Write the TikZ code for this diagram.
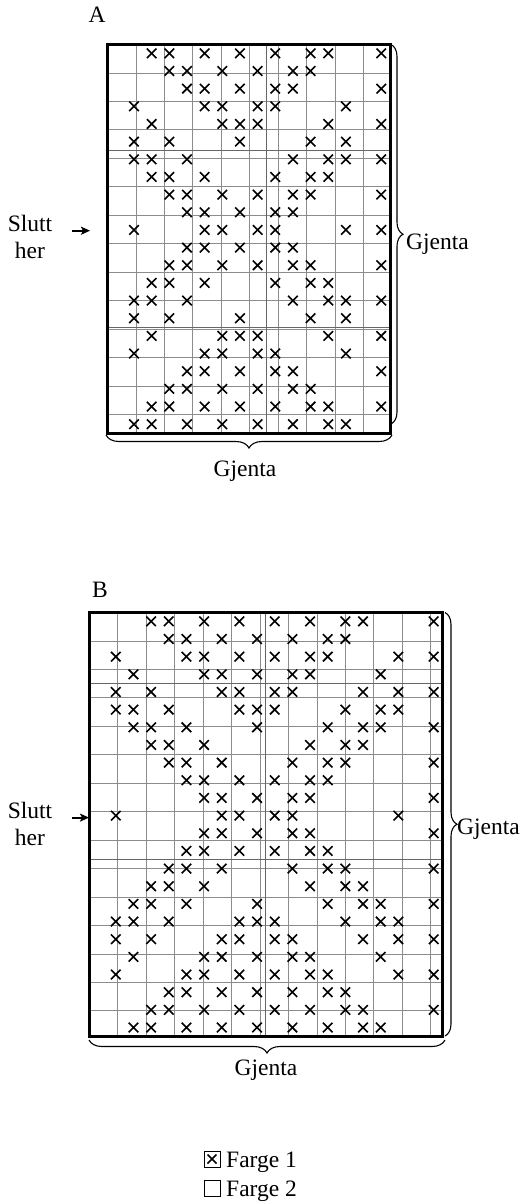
\documentclass[tikz,border=0pt]{standalone}
\usepackage{fontspec}
\setmainfont{Liberation Serif}
\usetikzlibrary{decorations.pathreplacing,arrows.meta}
\begin{document}
\begin{tikzpicture}[x=1pt,y=-1pt,
  lbl/.style={font=\fontsize{23.5}{27}\selectfont, inner sep=0pt},
  gridline/.style={draw=black!45, line width=0.8pt},
  sectline/.style={draw=black!60, line width=1.1pt},
  border/.style={draw=black, line width=3pt},
  xmark/.style={draw=black, line width=1.6pt},
  bracedeco/.style={decorate, decoration={brace, amplitude=#1}, line width=1.1pt},
  endarrow/.style={-{Stealth[length=9pt,width=8pt,inset=2pt]}, line width=1.8pt},
  legbox/.style={draw=black, line width=1pt, minimum size=16pt, inner sep=0pt}
]
\useasboundingbox (0,0) rectangle (523,1203);

% ---------------- Chart A ----------------
\node[lbl, anchor=base] (Alab) at (97,22) {A};
\begin{scope}[shift={(107.5,44.5)}, x=17.66pt, y=-17.66pt]
  \draw[gridline] (0,0) grid (16,22);
  \draw[sectline] (9,0) -- (9,22) (0,6) -- (16,6) (0,16) -- (16,16);
  \foreach \r/\cols in {
    1/{3,4,6,8,10,12,13,16},
    2/{4,5,7,9,11,12},
    3/{5,6,8,10,11,16},
    4/{2,6,7,9,10,14},
    5/{3,7,8,9,13,16},
    6/{2,4,8,12,14},
    7/{2,3,5,11,13,14,16},
    8/{3,4,6,10,12,13},
    9/{4,5,7,9,11,12,16},
    10/{5,6,8,10,11},
    11/{2,6,7,9,10,14,16},
    12/{5,6,8,10,11},
    13/{4,5,7,9,11,12,16},
    14/{3,4,6,10,12,13},
    15/{2,3,5,11,13,14,16},
    16/{2,4,8,12,14},
    17/{3,7,8,9,13,16},
    18/{2,6,7,9,10,14},
    19/{5,6,8,10,11,16},
    20/{4,5,7,9,11,12},
    21/{3,4,6,8,10,12,13,16},
    22/{2,3,5,7,9,11,13,14}} {
    \foreach \c in \cols {
      \draw[xmark] (\c-0.5,\r-0.5) +(-0.27,-0.27) -- +(0.27,0.27) +(-0.27,0.27) -- +(0.27,-0.27);
    }
  }
  \draw[border] (0,0) rectangle (16,22);
\end{scope}
\coordinate (ArTop) at (391,44.5);
\coordinate (ArBot) at (391,424);
\draw[bracedeco=12pt] (ArTop) -- (ArBot);
\node[lbl, anchor=base west] (AgjR) at (406,249) {Gjenta};
\coordinate (AbR) at (392,435);
\coordinate (AbL) at (106,435);
\draw[bracedeco=13pt] (AbR) -- (AbL);
\node[lbl, anchor=base] (AgjB) at (245,476) {Gjenta};
\node[lbl, align=center] (Aslutt) at (30,237) {Slutt\\her};
\coordinate (AarS) at (72,230.7);
\coordinate (AarE) at (90,230.7);
\draw[endarrow] (AarS) -- (AarE);

% ---------------- Chart B ----------------
\node[lbl, anchor=base] (Blab) at (100,597) {B};
\begin{scope}[shift={(89.3,612.5)}, x=17.66pt, y=-17.66pt]
  \draw[gridline] (0,0) grid (20,24);
  \draw[sectline] (10,0) -- (10,24) (0,4) -- (20,4) (0,14) -- (20,14);
  \foreach \r/\cols in {
    1/{4,5,7,9,11,13,15,16,20},
    2/{5,6,8,10,12,14,15},
    3/{2,6,7,9,11,13,14,18,20},
    4/{3,7,8,10,12,13,17},
    5/{2,4,8,9,11,12,16,18,20},
    6/{2,3,5,9,10,11,15,17,18},
    7/{3,4,6,10,14,16,17,20},
    8/{4,5,7,13,15,16},
    9/{5,6,8,12,14,15,20},
    10/{6,7,9,11,13,14},
    11/{7,8,10,12,13,20},
    12/{2,8,9,11,12,18},
    13/{7,8,10,12,13,20},
    14/{6,7,9,11,13,14},
    15/{5,6,8,12,14,15,20},
    16/{4,5,7,13,15,16},
    17/{3,4,6,10,14,16,17,20},
    18/{2,3,5,9,10,11,15,17,18},
    19/{2,4,8,9,11,12,16,18,20},
    20/{3,7,8,10,12,13,17},
    21/{2,6,7,9,11,13,14,18,20},
    22/{5,6,8,10,12,14,15},
    23/{4,5,7,9,11,13,15,16,20},
    24/{3,4,6,8,10,12,14,16,17}} {
    \foreach \c in \cols {
      \draw[xmark] (\c-0.5,\r-0.5) +(-0.27,-0.27) -- +(0.27,0.27) +(-0.27,0.27) -- +(0.27,-0.27);
    }
  }
  \draw[border] (0,0) rectangle (20,24);
\end{scope}
\coordinate (BrTop) at (445,612.5);
\coordinate (BrBot) at (445,1036);
\draw[bracedeco=12pt] (BrTop) -- (BrBot);
\node[lbl, anchor=base west] (BgjR) at (457,834) {Gjenta};
\coordinate (BbR) at (445,1040);
\coordinate (BbL) at (89,1040);
\draw[bracedeco=13pt] (BbR) -- (BbL);
\node[lbl, anchor=base] (BgjB) at (266,1075) {Gjenta};
\node[lbl, align=center] (Bslutt) at (30,824) {Slutt\\her};
\coordinate (BarS) at (72,817.6);
\coordinate (BarE) at (89,817.6);
\draw[endarrow] (BarS) -- (BarE);

% ---------------- Legend ----------------
\node[legbox] (leg1) at (212,1159) {};
\draw[xmark] (leg1.center) +(-4.5,-4.5) -- +(4.5,4.5) +(-4.5,4.5) -- +(4.5,-4.5);
\node[lbl, anchor=base west] (leg1t) at (226,1167) {Farge 1};
\node[legbox] (leg2) at (212,1188) {};
\node[lbl, anchor=base west] (leg2t) at (226,1196) {Farge 2};
\end{tikzpicture}
\end{document}
